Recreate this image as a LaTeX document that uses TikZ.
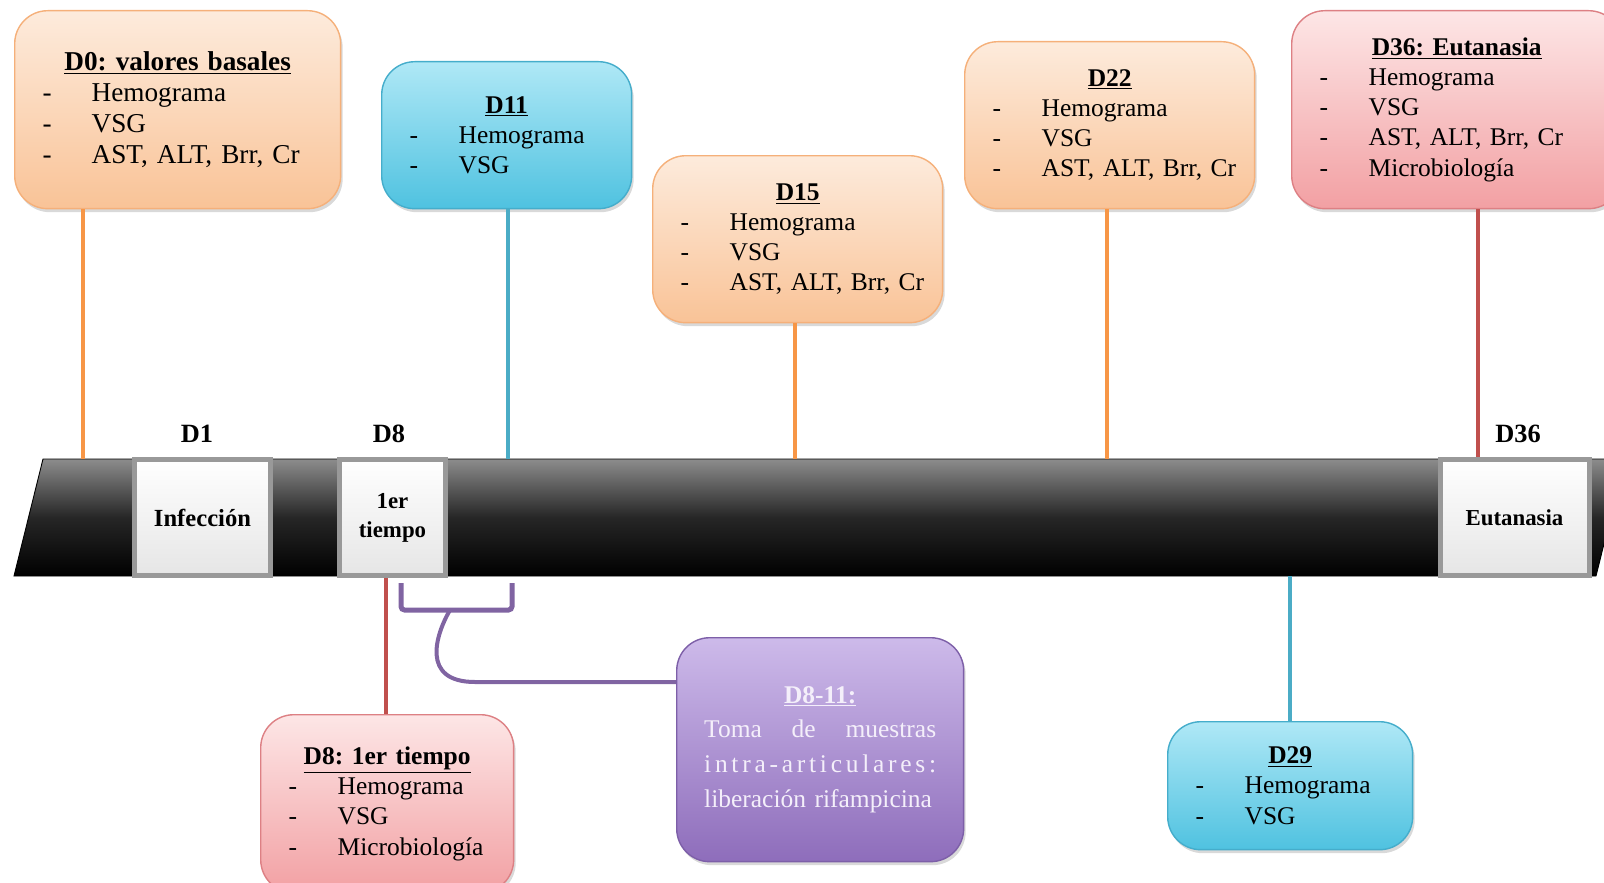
\documentclass[tikz,border=0pt]{standalone}
\usepackage{fontspec}
\setmainfont{Liberation Serif}
\usetikzlibrary{shadows,positioning}
\setlength{\parindent}{0pt}
\frenchspacing

\definecolor{orTop}{HTML}{FDEBDC}
\definecolor{orBot}{HTML}{F9C397}
\definecolor{orEdge}{HTML}{F5B07A}
\definecolor{orLine}{HTML}{F79646}
\definecolor{cyTop}{HTML}{AFE8F6}
\definecolor{cyBot}{HTML}{4FC2E0}
\definecolor{cyEdge}{HTML}{45ADCB}
\definecolor{cyLine}{HTML}{4BACC6}
\definecolor{rdTop}{HTML}{FDE6E6}
\definecolor{rdBot}{HTML}{F2A0A3}
\definecolor{rdEdge}{HTML}{DD8084}
\definecolor{rdLine}{HTML}{C0504D}
\definecolor{puTop}{HTML}{CDBAEA}
\definecolor{puBot}{HTML}{8E6DBB}
\definecolor{puEdge}{HTML}{7D5FA8}
\definecolor{puLine}{HTML}{8064A2}
\definecolor{puText}{HTML}{F4EFFA}

\newcommand{\ttl}[1]{\makebox[\hsize]{\textbf{\underline{#1}}}}
\newcommand{\itm}[1]{\mbox{\makebox[0.98cm][l]{-}#1}}
\newcommand{\fullln}[1]{\leavevmode\hbox to \hsize{#1}}
\makeatletter
\newcommand{\spreadltrs}[1]{\def\sp@sep{}\@tfor\sp@c:=#1\do{\sp@sep\sp@c\def\sp@sep{\hfill}}}
\makeatother

\begin{document}
\begin{tikzpicture}[
  x=0.02cm, y=-0.02cm,
  infobox/.style={rounded corners=0.66cm, anchor=north west, align=left,
    inner xsep=0.56cm, inner ysep=0pt, line width=0.8pt,
    font=\fontsize{14.5}{17.2}\selectfont,
    drop shadow={opacity=0.3, shadow xshift=0.04cm, shadow yshift=-0.07cm}},
  orbox/.style={infobox, top color=orTop, bottom color=orBot, draw=orEdge},
  cybox/.style={infobox, top color=cyTop, bottom color=cyBot, draw=cyEdge},
  rdbox/.style={infobox, top color=rdTop, bottom color=rdBot, draw=rdEdge},
  pubox/.style={infobox, top color=puTop, bottom color=puBot, draw=puEdge, text=puText},
  daybox/.style={draw=black!40, line width=0.1cm, top color=white, bottom color=black!10,
    align=center, inner sep=0pt, minimum height=2.34cm,
    font=\bfseries\fontsize{13}{16.5}\selectfont},
  daylbl/.style={font=\bfseries\fontsize{15}{18}\selectfont, inner sep=0pt},
  link/.style={line width=0.08cm}
]
\clip (0,0) rectangle (1604,882);

% time bar
\path[draw=black, line width=0.5pt, top color=black!45, bottom color=black, middle color=black!85]
  (14,576) -- (43,459) -- (1625,459) -- (1596,576) -- cycle;

% days on the bar
\node[daybox, minimum width=2.74cm, font=\bfseries\fontsize{14}{16}\selectfont] (inf) at (202.5,517.5) {Infección};
\node[daybox, minimum width=2.14cm] (ter) at (392.5,517.5) {1er\\tiempo};
\node[daybox, minimum width=2.98cm] (eut) at (1514.5,517.5) {Eutanasia};

\node[daylbl] (l1) at (197,434) {D1};
\node[daylbl] (l8) at (389,434) {D8};
\node[daylbl] (l36) at (1518,434) {D36};

% boxes above
\node[orbox, text width=5.4cm, minimum height=3.96cm, font=\fontsize{15.5}{17.8}\selectfont] (d0) at (14,10)
  {\ttl{D0: valores basales}\\ \itm{Hemograma}\\ \itm{VSG}\\ \itm{AST, ALT, Brr, Cr}};
\node[cybox, text width=3.88cm, minimum height=2.94cm] (d11) at (381,61)
  {\ttl{D11}\\ \itm{Hemograma}\\ \itm{VSG}};
\node[orbox, text width=4.68cm, minimum height=3.34cm] (d15) at (652,155)
  {\ttl{D15}\\ \itm{Hemograma}\\ \itm{VSG}\\ \itm{AST, ALT, Brr, Cr}};
\node[orbox, text width=4.68cm, minimum height=3.34cm] (d22) at (964,41)
  {\ttl{D22}\\ \itm{Hemograma}\\ \itm{VSG}\\ \itm{AST, ALT, Brr, Cr}};
\node[rdbox, text width=5.48cm, minimum height=3.96cm] (d36) at (1291,10)
  {\ttl{D36: Eutanasia}\\ \itm{Hemograma}\\ \itm{VSG}\\ \itm{AST, ALT, Brr, Cr}\\ \itm{Microbiología}};

% boxes below
\node[rdbox, text width=3.94cm, minimum height=3.56cm] (d8) at (260,714)
  {\ttl{D8: 1er tiempo}\\ \itm{Hemograma}\\ \itm{VSG}\\ \itm{Microbiología}};
\node[pubox, inner xsep=0.55cm, text width=4.64cm, minimum height=4.48cm,
  font=\fontsize{14.5}{19.9}\selectfont] (d811) at (676,637)
  {\ttl{D8-11:}\\ \fullln{Toma \hfill de \hfill muestras}\\
   \fullln{\spreadltrs{intra-articulares:}}\\ liberación rifampicina\\[2pt]};
\node[cybox, text width=3.78cm, minimum height=2.56cm] (d29) at (1167,721)
  {\ttl{D29}\\ \itm{Hemograma}\\ \itm{VSG}};

% connectors
\coordinate (t0) at (83,459);
\coordinate (t11) at (508,459);
\coordinate (t15) at (795,459);
\coordinate (t22) at (1107,459);
\coordinate (t36) at (1478,459);
\coordinate (b8) at (386,576);
\coordinate (b29) at (1290,576);
\draw[link, orLine] (d0.south -| t0) -- (t0);
\draw[link, cyLine] (d11.south -| t11) -- (t11);
\draw[link, orLine] (d15.south -| t15) -- (t15);
\draw[link, orLine] (d22.south -| t22) -- (t22);
\draw[link, rdLine] (d36.south -| t36) -- (eut.north -| t36);
\draw[link, rdLine] (ter.south -| b8) -- (d8.north -| b8);
\draw[link, cyLine] (b29) -- (d29.north -| b29);

% bracket D8-11
\coordinate (br1) at (401,583);
\coordinate (br2) at (512,583);
\coordinate (bm) at (450,610);
\coordinate (hk) at (475,682);
\draw[line width=0.1cm, puLine, rounded corners=2pt] (br1) -- (401,610) -- (512,610) -- (br2);
\draw[link, puLine] (bm) .. controls (436,634) and (420,682) .. (hk) -- (d811.west |- hk);
\end{tikzpicture}
\end{document}
